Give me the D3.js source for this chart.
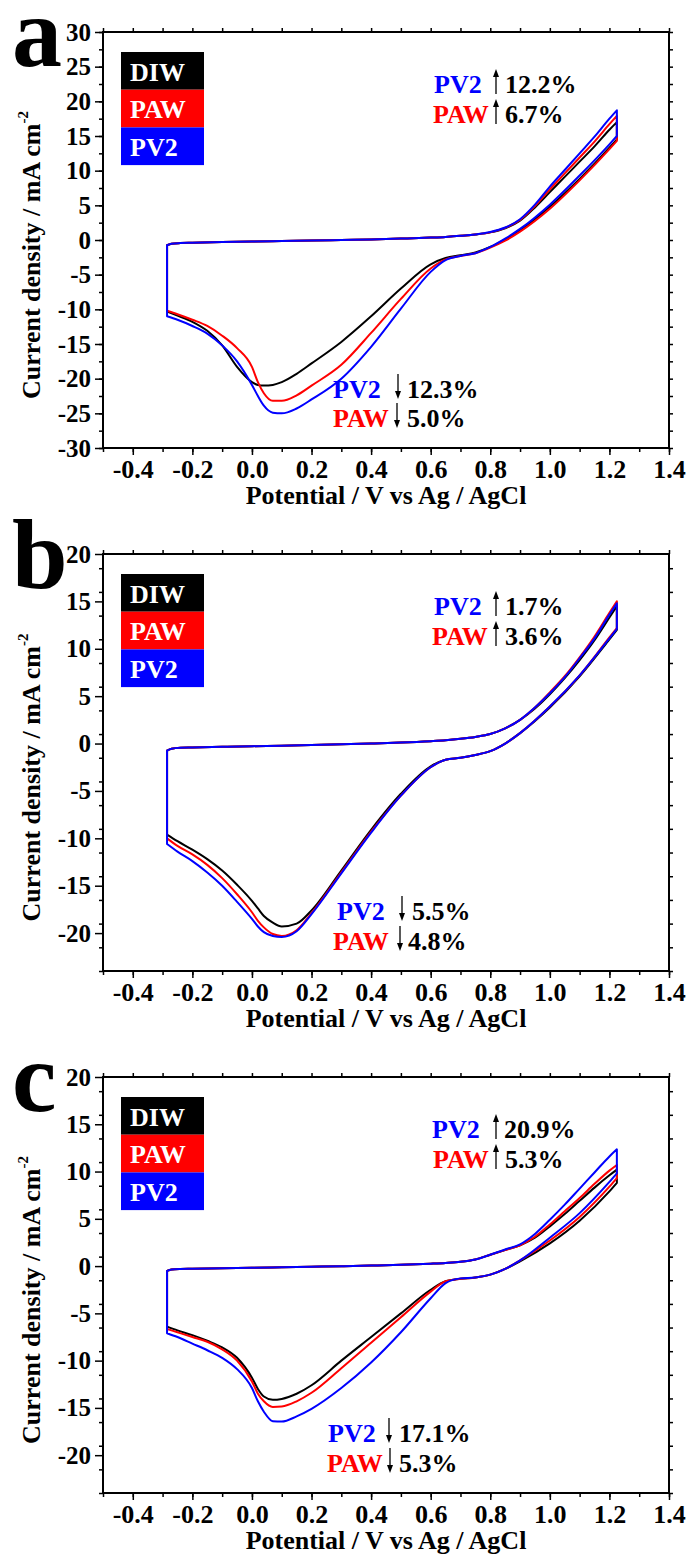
<!DOCTYPE html>
<html>
<head>
<meta charset="utf-8">
<script src="https://cdn.jsdelivr.net/npm/d3@7"></script>
<style>
  body { margin: 0; background: #fff; }
</style>
</head>
<body>
<div id="chart"></div>
<script>
// sweep potentials (V vs Ag/AgCl)
const upperE = [-0.285, -0.27, -0.24, -0.2, -0.1, 0, 0.1, 0.2, 0.3, 0.4, 0.5, 0.6, 0.65, 0.7, 0.75, 0.8, 0.85, 0.9, 0.95, 1.0, 1.05, 1.1, 1.15, 1.2, 1.225];
const lowerE = [1.225, 1.2, 1.1, 1.0, 0.9, 0.85, 0.8, 0.75, 0.7, 0.65, 0.6, 0.5, 0.4, 0.3, 0.2, 0.15, 0.1, 0.07, 0.04, 0.02, 0, -0.05, -0.1, -0.15, -0.2, -0.25, -0.285];

const seriesNames = ['DIW', 'PAW', 'PV2'];
const seriesColors = ['#000000', '#ff0000', '#0000ff'];

// panel a
const aDIWup = [-0.75, -0.55, -0.45, -0.4, -0.3, -0.22, -0.15, -0.08, 0, 0.08, 0.2, 0.35, 0.45, 0.6, 0.8, 1.1, 1.7, 2.8, 4.7, 6.9, 9.1, 11.3, 13.5, 15.9, 17.0];
const aPAWup = [-0.75, -0.55, -0.45, -0.4, -0.3, -0.22, -0.15, -0.08, 0, 0.08, 0.2, 0.35, 0.45, 0.6, 0.8, 1.1, 1.75, 2.9, 4.9, 7.3, 9.6, 11.9, 14.2, 16.7, 17.9];
const aPV2up = [-0.75, -0.55, -0.45, -0.4, -0.3, -0.22, -0.15, -0.08, 0, 0.08, 0.2, 0.35, 0.45, 0.6, 0.8, 1.15, 1.8, 3.0, 5.1, 7.7, 10.1, 12.5, 14.9, 17.5, 18.7];
const aDIWlow = [14.5, 13.3, 8.8, 4.8, 1.4, 0.1, -1.0, -1.8, -2.2, -2.6, -3.5, -7.0, -11.0, -14.7, -17.8, -19.3, -20.5, -20.9, -21.0, -20.9, -20.5, -18.3, -15.2, -13.1, -11.8, -10.9, -10.3];
const aPAWlow = [14.3, 13.1, 8.6, 4.5, 1.2, -0.1, -1.1, -1.9, -2.3, -2.8, -4.1, -8.5, -13.4, -18.0, -21.0, -22.4, -23.2, -23.2, -22.1, -20.5, -18.3, -15.6, -13.8, -12.4, -11.5, -10.7, -10.2];
const aPV2low = [15.0, 13.8, 9.3, 5.1, 1.6, 0.2, -1.0, -1.9, -2.3, -2.9, -4.6, -9.9, -15.4, -20.0, -23.0, -24.3, -25.0, -24.9, -23.9, -22.5, -20.9, -17.5, -15.2, -13.5, -12.4, -11.5, -11.0];

// panel b
const bDIWup = [-0.75, -0.55, -0.45, -0.42, -0.35, -0.28, -0.22, -0.15, -0.08, 0, 0.1, 0.25, 0.35, 0.5, 0.7, 1.0, 1.6, 2.5, 3.7, 5.2, 6.9, 8.8, 10.9, 13.3, 14.5];
const bPAWup = [-0.75, -0.55, -0.45, -0.42, -0.35, -0.28, -0.22, -0.15, -0.08, 0, 0.1, 0.25, 0.35, 0.5, 0.7, 1.0, 1.6, 2.5, 3.8, 5.4, 7.1, 9.1, 11.3, 13.8, 15.0];
const bPV2up = [-0.75, -0.55, -0.45, -0.42, -0.35, -0.28, -0.22, -0.15, -0.08, 0, 0.1, 0.25, 0.35, 0.5, 0.7, 1.0, 1.6, 2.5, 3.8, 5.3, 7.0, 9.0, 11.1, 13.6, 14.8];
const bDIWlow = [12.0, 11.0, 7.1, 3.8, 1.1, 0.0, -0.8, -1.2, -1.5, -1.7, -2.4, -5.3, -9.1, -13.4, -17.6, -19.0, -19.3, -18.9, -18.2, -17.4, -16.6, -14.9, -13.4, -12.2, -11.2, -10.3, -9.6];
const bPAWlow = [12.2, 11.2, 7.2, 3.9, 1.1, 0.0, -0.8, -1.2, -1.5, -1.7, -2.5, -5.5, -9.3, -13.6, -17.9, -19.7, -20.3, -20.1, -19.4, -18.7, -17.8, -15.9, -14.2, -12.8, -11.7, -10.8, -10.0];
const bPV2low = [12.1, 11.1, 7.2, 3.9, 1.1, 0.0, -0.8, -1.2, -1.5, -1.7, -2.5, -5.5, -9.4, -13.7, -18.0, -19.8, -20.4, -20.3, -19.9, -19.3, -18.5, -16.7, -15.0, -13.6, -12.4, -11.4, -10.6];

// panel c
const cDIWup = [-0.5, -0.35, -0.3, -0.28, -0.22, -0.17, -0.12, -0.07, -0.02, 0.05, 0.13, 0.25, 0.33, 0.45, 0.7, 1.2, 1.7, 2.2, 3.0, 4.2, 5.5, 6.9, 8.3, 9.6, 10.2];
const cPAWup = [-0.5, -0.35, -0.3, -0.28, -0.22, -0.17, -0.12, -0.07, -0.02, 0.05, 0.13, 0.25, 0.33, 0.45, 0.7, 1.2, 1.7, 2.2, 3.1, 4.4, 5.8, 7.2, 8.7, 10.1, 10.7];
const cPV2up = [-0.5, -0.35, -0.3, -0.28, -0.22, -0.17, -0.12, -0.07, -0.02, 0.05, 0.13, 0.25, 0.33, 0.45, 0.7, 1.2, 1.75, 2.3, 3.4, 4.9, 6.5, 8.2, 9.9, 11.6, 12.35];
const cDIWlow = [8.8, 7.9, 4.8, 2.4, 0.5, -0.3, -0.9, -1.2, -1.35, -1.6, -2.5, -5.0, -7.5, -10.0, -12.6, -13.5, -14.05, -14.15, -13.8, -13.0, -11.8, -9.7, -8.6, -7.9, -7.3, -6.8, -6.4];
const cPAWlow = [9.3, 8.4, 5.2, 2.7, 0.6, -0.3, -0.9, -1.2, -1.35, -1.6, -2.7, -5.4, -8.1, -10.8, -13.4, -14.3, -14.85, -14.9, -14.3, -13.5, -12.2, -10.0, -8.8, -8.0, -7.5, -7.0, -6.65];
const cPV2low = [9.8, 8.9, 5.6, 3.0, 0.6, -0.3, -0.9, -1.2, -1.3, -1.8, -3.4, -7.0, -10.2, -12.9, -15.1, -15.9, -16.45, -16.4, -15.4, -14.3, -12.9, -10.9, -9.7, -8.9, -8.2, -7.5, -7.1];

// axes ticks
const xTicks = [-0.4, -0.2, 0.0, 0.2, 0.4, 0.6, 0.8, 1.0, 1.2, 1.4];
const yTicksA = [-30, -25, -20, -15, -10, -5, 0, 5, 10, 15, 20, 25, 30];
const yTicksBC = [-20, -15, -10, -5, 0, 5, 10, 15, 20];

// annotations: [series, direction, text]
const annA = [['PV2', 'up', '12.2%'], ['PAW', 'up', '6.7%'], ['PV2', 'down', '12.3%'], ['PAW', 'down', '5.0%']];
const annB = [['PV2', 'up', '1.7%'], ['PAW', 'up', '3.6%'], ['PV2', 'down', '5.5%'], ['PAW', 'down', '4.8%']];
const annC = [['PV2', 'up', '20.9%'], ['PAW', 'up', '5.3%'], ['PV2', 'down', '17.1%'], ['PAW', 'down', '5.3%']];

const W = 690, H = 1555;
const margin = {left: 103, right: 21};
const plotW = W - margin.left - margin.right;
const FONT = 'Liberation Serif';

const panels = [
  {letter: 'a', top: 32, h: 416, yDomain: [-30, 30], yTicks: yTicksA,
   up: [aDIWup, aPAWup, aPV2up], low: [aDIWlow, aPAWlow, aPV2low], ann: annA,
   annPos: [[331, 61, 393, 402], [330, 91, 393, 402], [230, 366, 295, 304], [230, 395, 294, 304]]},
  {letter: 'b', top: 554, h: 417, yDomain: [-24, 20], yTicks: yTicksBC,
   up: [bDIWup, bPAWup, bPV2up], low: [bDIWlow, bPAWlow, bPV2low], ann: annB,
   annPos: [[331, 61, 393, 402], [329, 91, 393, 402], [234, 366, 299, 309], [230, 396, 297, 305]]},
  {letter: 'c', top: 1077, h: 416, yDomain: [-24, 20], yTicks: yTicksBC,
   up: [cDIWup, cPAWup, cPV2up], low: [cDIWlow, cPAWlow, cPV2low], ann: annC,
   annPos: [[329, 61, 393, 401], [330, 91, 393, 402], [225, 365, 286, 296], [224, 395, 287, 296]]}
];

const svg = d3.select('#chart').append('svg')
  .attr('width', W)
  .attr('height', H)
  .style('display', 'block');

const x = d3.scaleLinear().domain([-0.5, 1.4]).range([0, plotW]);

panels.forEach(p => {
  const g = svg.append('g').attr('transform', `translate(${margin.left}, ${p.top})`);
  const y = d3.scaleLinear().domain(p.yDomain).range([p.h, 0]);

  // curves: anodic branch, then cathodic branch, closed at the turning points
  const line = d3.line().x(d => x(d[0])).y(d => y(d[1])).curve(d3.curveMonotoneX);
  p.up.forEach((upVals, i) => {
    const upPts = upperE.map((e, k) => [e, upVals[k]]);
    const lowPts = lowerE.map((e, k) => [e, p.low[i][k]]);
    const d = line(upPts) + line(lowPts).replace(/^M/, 'L') + 'Z';
    g.append('path')
      .attr('d', d)
      .attr('fill', 'none')
      .attr('stroke', seriesColors[i])
      .attr('stroke-width', 2)
      .attr('stroke-linejoin', 'round');
  });

  // axes
  const xMinor = d3.range(-0.5, 1.401, 0.1).map(v => +v.toFixed(2));
  const yMinor = d3.range(p.yDomain[0], p.yDomain[1] + 0.01, 2.5);

  const xAxisG = g.append('g').attr('transform', `translate(0, ${p.h})`)
    .call(d3.axisBottom(x).tickValues(xTicks).tickSize(7).tickPadding(5).tickFormat(d => d.toFixed(1)));
  g.append('g').attr('transform', `translate(0, ${p.h})`)
    .call(d3.axisBottom(x).tickValues(xMinor).tickSize(4).tickFormat(''));
  g.append('g').call(d3.axisTop(x).tickValues(xMinor).tickSize(4).tickFormat(''));

  const yAxisG = g.append('g')
    .call(d3.axisLeft(y).tickValues(p.yTicks).tickSize(8).tickPadding(4).tickFormat(d => String(d)));
  g.append('g').call(d3.axisLeft(y).tickValues(yMinor).tickSize(4).tickFormat(''));
  g.append('g').attr('transform', `translate(${plotW}, 0)`)
    .call(d3.axisRight(y).tickValues(yMinor).tickSize(4).tickFormat(''));

  g.selectAll('.domain').remove();
  g.selectAll('g').attr('font-family', null).attr('font-size', null);
  g.selectAll('.tick line').attr('stroke', '#000').attr('stroke-width', 1.5);
  g.selectAll('.tick text').filter(function () { return this.textContent === ''; }).remove();
  xAxisG.selectAll('text').attr('font-size', 26).attr('fill', '#000');
  yAxisG.selectAll('text').attr('font-size', 25).attr('fill', '#000');

  g.append('rect')
    .attr('width', plotW).attr('height', p.h)
    .attr('fill', 'none').attr('stroke', '#000').attr('stroke-width', 2);

  // axis titles
  g.append('text')
    .attr('x', plotW / 2).attr('y', p.h + 56)
    .attr('text-anchor', 'middle').attr('font-size', 26)
    .text('Potential / V vs Ag / AgCl');

  const yt = g.append('text')
    .attr('transform', `translate(${40 - margin.left}, ${p.h / 2 + 15}) rotate(-90)`)
    .attr('text-anchor', 'middle').attr('font-size', 26);
  yt.append('tspan').text('Current density / mA cm');
  yt.append('tspan').attr('font-size', 15).attr('dy', -12).text('-2');

  // panel letter
  svg.append('text')
    .attr('x', 12).attr('y', p.top + 34)
    .attr('font-size', 100)
    .text(p.letter);

  // legend
  const lg = g.append('g').attr('transform', 'translate(18, 20)');
  seriesNames.forEach((name, i) => {
    lg.append('rect')
      .attr('x', 0).attr('y', i * 37.7)
      .attr('width', 83).attr('height', 37.7)
      .attr('fill', seriesColors[i]);
    lg.append('text')
      .attr('x', 9).attr('y', i * 37.7 + 28.5)
      .attr('font-size', 26).attr('fill', '#fff')
      .text(name);
  });

  // annotations
  p.ann.forEach((a, k) => {
    const [lx, by, ax, vx] = p.annPos[k];
    const col = seriesColors[seriesNames.indexOf(a[0])];
    g.append('text').attr('x', lx).attr('y', by)
      .attr('font-size', 26).attr('fill', col).text(a[0]);
    g.append('text').attr('x', vx).attr('y', by)
      .attr('font-size', 26).attr('fill', '#000').text(a[2]);
    const y0 = by - 24, y1 = by + 1;
    const tip = a[1] === 'up' ? y0 : y1;
    const tail = a[1] === 'up' ? y1 : y0;
    const dir = a[1] === 'up' ? 1 : -1;
    g.append('line')
      .attr('x1', ax).attr('x2', ax)
      .attr('y1', tail).attr('y2', tip + dir * 6)
      .attr('stroke', '#000').attr('stroke-width', 1.3);
    g.append('path')
      .attr('d', `M${ax},${tip} L${ax - 3},${tip + dir * 8} L${ax + 3},${tip + dir * 8} Z`)
      .attr('fill', '#000');
  });
});

// every text in bold Times-like serif
svg.selectAll('text').attr('font-family', FONT).attr('font-weight', 'bold');
</script>
</body>
</html>
